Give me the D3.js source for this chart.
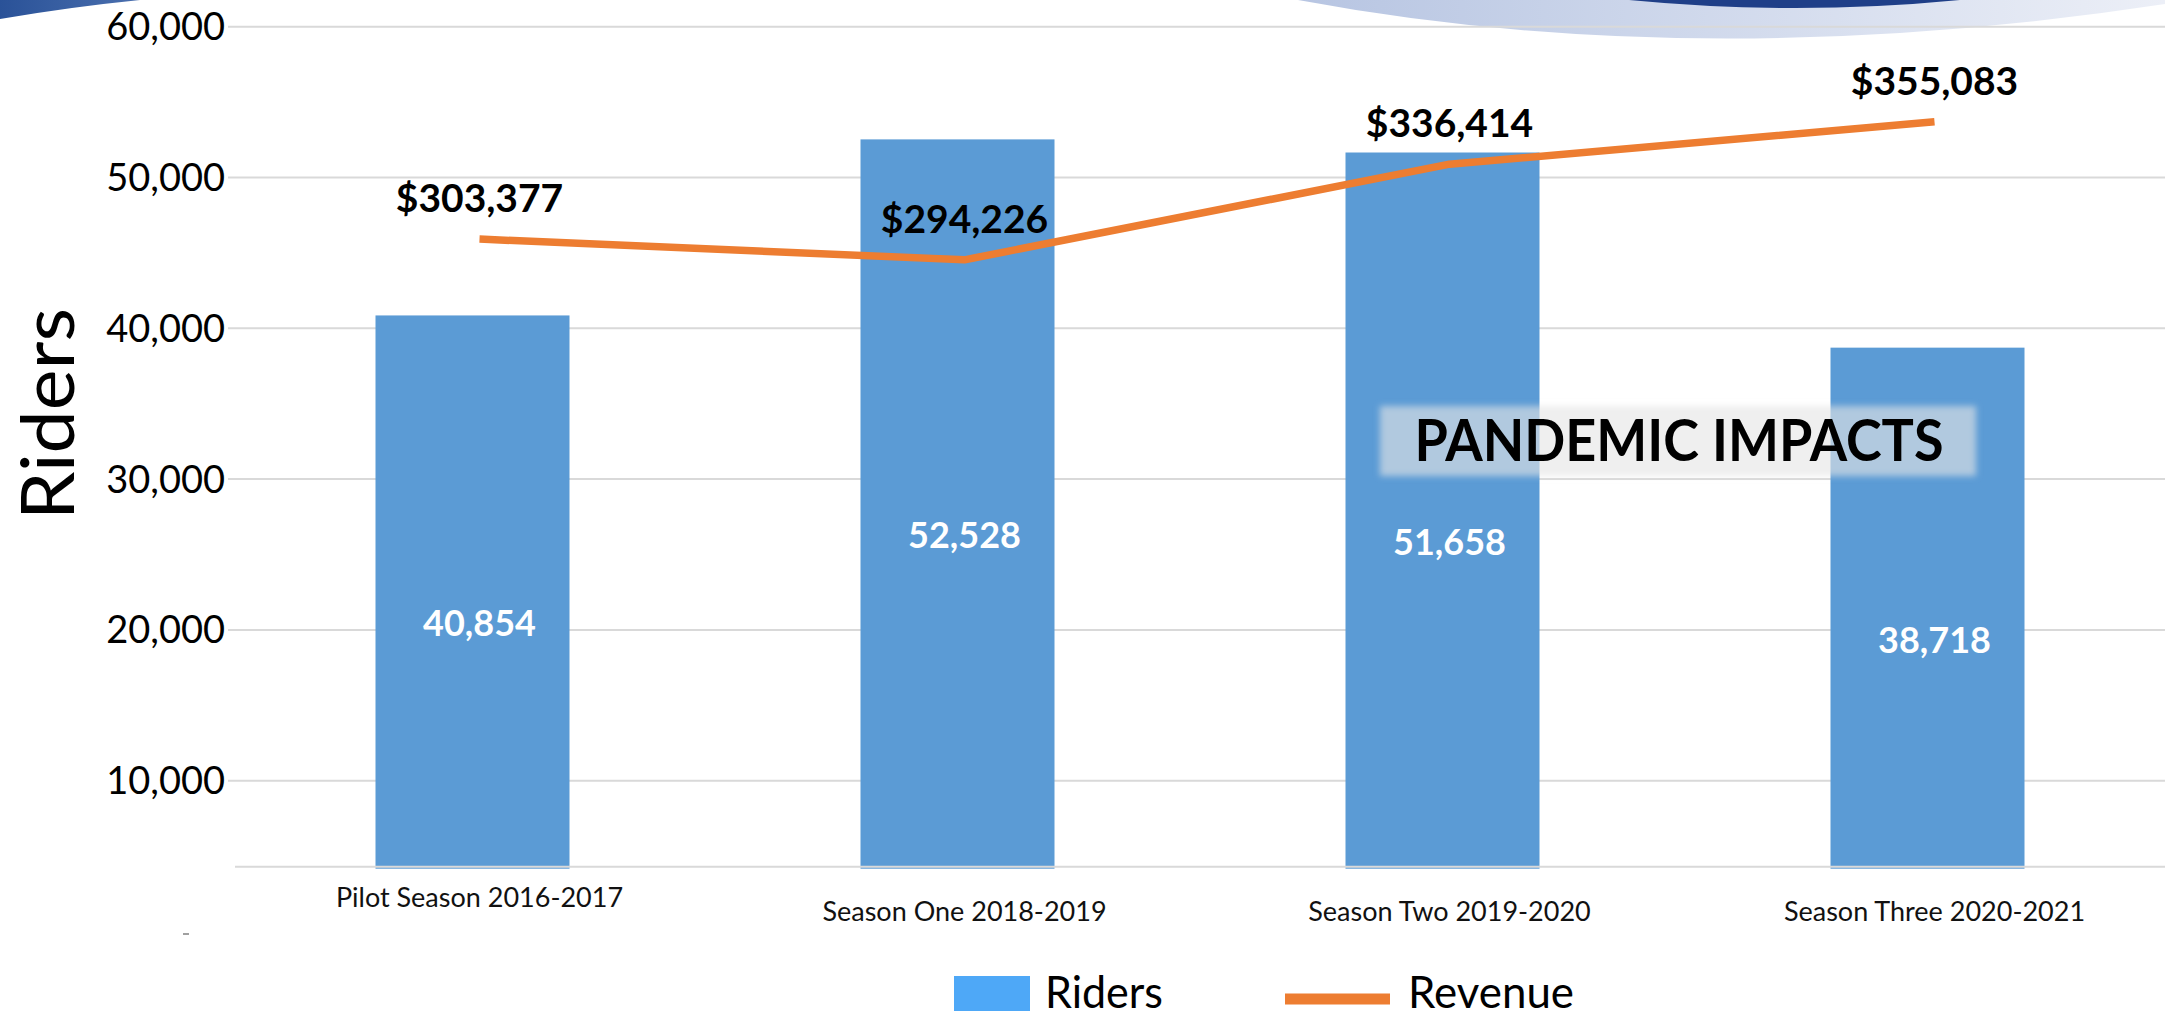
<!DOCTYPE html>
<html>
<head>
<meta charset="utf-8">
<script src="https://cdn.jsdelivr.net/npm/d3@7"></script>
<style>
  html, body { margin: 0; padding: 0; background: #fff; overflow: hidden; }
  svg { display: block; font-family: Lato, "Open Sans", sans-serif; }
</style>
</head>
<body>
<div id="chart_container"></div>
<script>
// chart values
var seasons = ["Pilot Season 2016-2017", "Season One 2018-2019", "Season Two 2019-2020", "Season Three 2020-2021"];
var riders = [40854, 52528, 51658, 38718];
var revenue = [303377, 294226, 336414, 355083];
var riderTicks = [10000, 20000, 30000, 40000, 50000, 60000];

var width = 2165, height = 1018;

var data = seasons.map(function (s, i) {
    return { season: s, riders: riders[i], revenue: revenue[i] };
});

var svg = d3.select("#chart_container")
    .append("svg")
    .attr("width", width)
    .attr("height", height);

var defs = svg.append("defs");
var gradLeft = defs.append("linearGradient").attr("id", "gradLeft");
gradLeft.append("stop").attr("offset", "0%").attr("stop-color", "#2a5298");
gradLeft.append("stop").attr("offset", "100%").attr("stop-color", "#4a6fae");
var gradRight = defs.append("linearGradient").attr("id", "gradRight");
gradRight.append("stop").attr("offset", "0%").attr("stop-color", "#b7c5e2");
gradRight.append("stop").attr("offset", "100%").attr("stop-color", "#eceff7");
defs.append("filter").attr("id", "soft")
    .attr("x", "-10%").attr("y", "-30%").attr("width", "120%").attr("height", "160%")
    .append("feGaussianBlur").attr("stdDeviation", 3);

// slide decorations at the top
svg.append("path")
    .attr("d", "M0,0 L140,0 Q70,7 0,19 Z")
    .attr("fill", "url(#gradLeft)");
svg.append("path")
    .attr("d", "M1298,0 Q1700,75 2165,4 L2165,0 Z")
    .attr("fill", "url(#gradRight)");
svg.append("path")
    .attr("d", "M1629,0 Q1795,16 1960,0 Z")
    .attr("fill", "#1f3f88");

// scales
var x = d3.scaleBand()
    .domain(seasons)
    .range([230, 2170])
    .paddingInner(0.6)
    .paddingOuter(0.3);
var y = d3.scaleLinear().domain([4300, 60000]).range([866.7, 26.7]);
var yRev = d3.scaleLinear().domain([0, 400000]).range([927, 20]);
var shift = 7; // category centre sits a little right of the bar centre

var fmt = d3.format(",");

// gridlines + y labels
var yAxis = svg.append("g")
    .attr("class", "y-axis")
    .call(d3.axisLeft(y).tickValues(riderTicks).tickSize(0).tickFormat(fmt).tickPadding(0))
    .attr("transform", "translate(225,0)");
yAxis.select(".domain").remove();
yAxis.selectAll("text")
    .attr("x", 0)
    .attr("dy", "0.34em")
    .style("font-family", "Lato, sans-serif")
    .style("font-size", "38px")
    .attr("fill", "#000");

svg.append("g").selectAll("line")
    .data(riderTicks)
    .enter().append("line")
    .attr("x1", 228).attr("x2", width)
    .attr("y1", d => y(d)).attr("y2", d => y(d))
    .attr("stroke", "#d9d9d9")
    .attr("stroke-width", 2);

// bars
svg.selectAll("rect.bar")
    .data(data)
    .enter().append("rect")
    .attr("class", "bar")
    .attr("x", d => x(d.season))
    .attr("y", d => y(d.riders))
    .attr("width", x.bandwidth())
    .attr("height", d => y.range()[0] + 2 - y(d.riders))
    .attr("fill", "#5b9bd5");

// x axis line
svg.append("line")
    .attr("x1", 235).attr("x2", width)
    .attr("y1", y.range()[0]).attr("y2", y.range()[0])
    .attr("stroke", "#d9d9d9")
    .attr("stroke-width", 2);

// stray dash under the axis
svg.append("line")
    .attr("x1", 183).attr("x2", 189)
    .attr("y1", 934).attr("y2", 934)
    .attr("stroke", "#808080")
    .attr("stroke-width", 1.5);

// bar value labels
svg.selectAll(".bar-text")
    .data(data)
    .enter().append("text")
    .attr("class", "bar-text")
    .attr("x", d => x(d.season) + x.bandwidth() / 2 + shift)
    .attr("y", d => y(d.riders / 2))
    .attr("dy", "0.36em")
    .attr("text-anchor", "middle")
    .attr("fill", "#fff")
    .style("font-size", "36px")
    .style("font-weight", "bold")
    .text(d => fmt(d.riders));

// x labels
svg.selectAll(".x-label")
    .data(data)
    .enter().append("text")
    .attr("class", "x-label")
    .attr("x", d => x(d.season) + x.bandwidth() / 2 + shift)
    .attr("y", (d, i) => i === 0 ? 907 : 921)
    .attr("text-anchor", "middle")
    .attr("fill", "#111")
    .style("font-size", "27px")
    .text(d => d.season);

// pandemic annotation
svg.append("rect")
    .attr("x", 1380).attr("y", 406)
    .attr("width", 596).attr("height", 70)
    .attr("fill", "rgba(229,229,229,0.62)")
    .attr("filter", "url(#soft)");
svg.append("text")
    .attr("x", 1679).attr("y", 461)
    .attr("text-anchor", "middle")
    .attr("textLength", 529)
    .attr("lengthAdjust", "spacingAndGlyphs")
    .style("font-size", "57px")
    .style("font-weight", "bold")
    .text("PANDEMIC IMPACTS");

// revenue line
var line = d3.line()
    .x(d => x(d.season) + x.bandwidth() / 2 + shift)
    .y(d => yRev(d.revenue));
svg.append("path")
    .datum(data)
    .attr("d", line)
    .attr("fill", "none")
    .attr("stroke", "#ed7d31")
    .attr("stroke-width", 7.5)
    .attr("stroke-linejoin", "round");

svg.selectAll(".rev-text")
    .data(data)
    .enter().append("text")
    .attr("class", "rev-text")
    .attr("x", d => x(d.season) + x.bandwidth() / 2 + shift)
    .attr("y", d => yRev(d.revenue) - 27)
    .attr("text-anchor", "middle")
    .style("font-size", "39px")
    .style("font-weight", "bold")
    .text(d => "$" + fmt(d.revenue));

// axis title
svg.append("text")
    .attr("transform", "translate(74,414) rotate(-90)")
    .attr("text-anchor", "middle")
    .attr("textLength", 212)
    .attr("lengthAdjust", "spacingAndGlyphs")
    .style("font-size", "74px")
    .text("Riders");

// legend
var legend = svg.append("g").attr("class", "legend");
legend.append("rect")
    .attr("x", 954).attr("y", 976)
    .attr("width", 76).attr("height", 35)
    .attr("fill", "#4ea8f7");
legend.append("text")
    .attr("x", 1045).attr("y", 1008)
    .attr("textLength", 118)
    .attr("lengthAdjust", "spacingAndGlyphs")
    .style("font-size", "45px")
    .text("Riders");
legend.append("line")
    .attr("x1", 1285).attr("x2", 1390)
    .attr("y1", 999).attr("y2", 999)
    .attr("stroke", "#ed7d31")
    .attr("stroke-width", 11);
legend.append("text")
    .attr("x", 1408).attr("y", 1008)
    .attr("textLength", 166)
    .attr("lengthAdjust", "spacingAndGlyphs")
    .style("font-size", "45px")
    .text("Revenue");
</script>
</body>
</html>
